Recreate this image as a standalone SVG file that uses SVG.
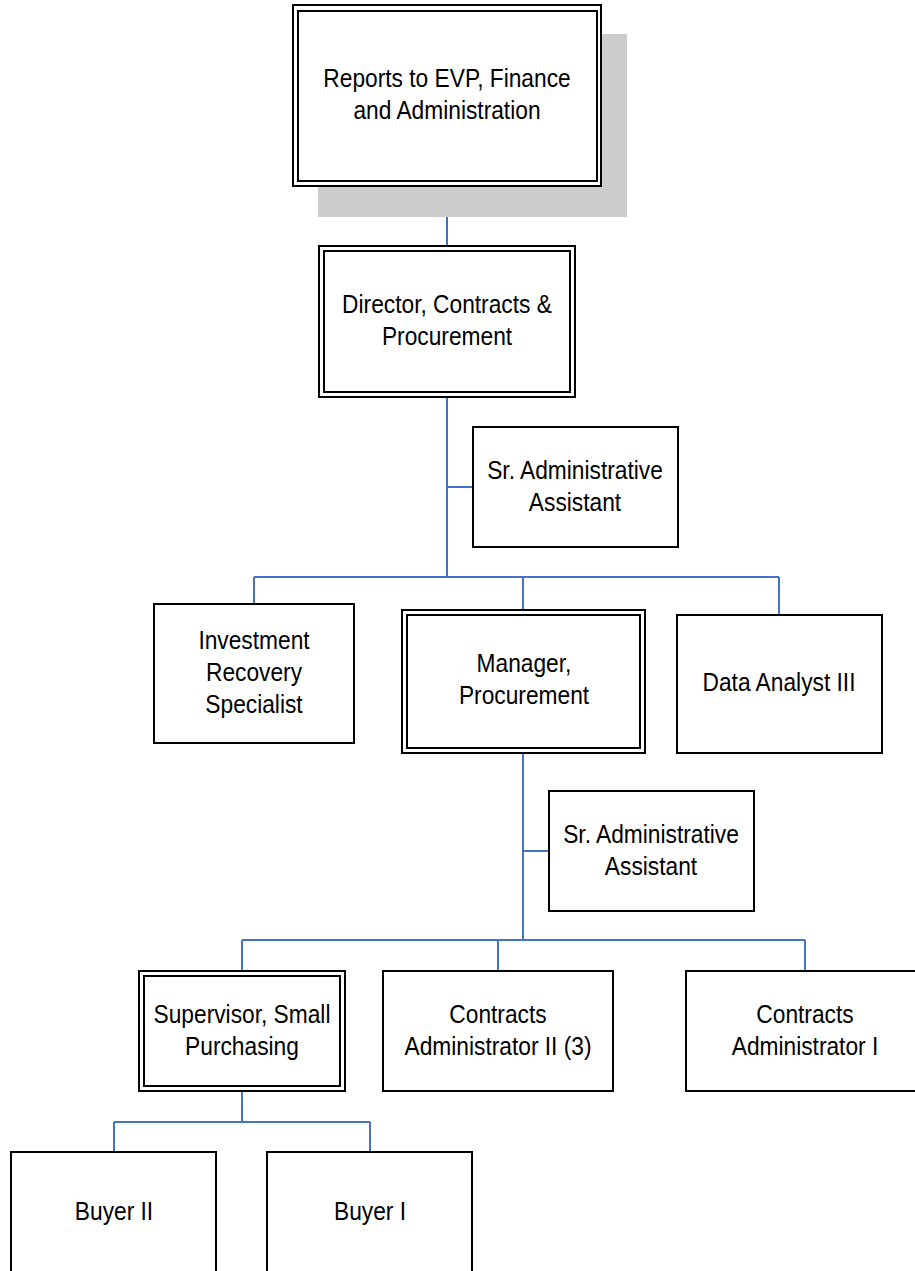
<svg xmlns="http://www.w3.org/2000/svg" width="915" height="1271" viewBox="0 0 915 1271">
<style>
.box{fill:#fff;stroke:#000;stroke-width:2}
.inner{fill:none;stroke:#000;stroke-width:2}
.conn{fill:none;stroke:#4472C4;stroke-width:2}
text{font-family:"Liberation Sans",Arial,sans-serif;font-size:25px;fill:#000;text-anchor:middle}
</style>
<rect width="915" height="1271" fill="#fff"/>
<g id="connectors">
<path class="conn" d="M447 186V246"/>
<path class="conn" d="M447 397V577M447 487H473M254 577H779M254 577V604M523 577V610M779 577V615"/>
<path class="conn" d="M523 753V940M523 851H549M242 940H805M242 940V971M498 940V971M805 940V971"/>
<path class="conn" d="M242 1091V1122M114 1122H370M114 1122V1152M370 1122V1152"/>
</g>
<g id="evp">
<rect x="318" y="34" width="309" height="183" fill="#cccccc"/>
<rect class="box" x="293" y="5" width="308" height="181"/>
<rect class="inner" x="298" y="11" width="299" height="170"/>
<text transform="translate(447 87) scale(0.91 1)">Reports to EVP, Finance</text>
<text transform="translate(447 119) scale(0.91 1)">and Administration</text>
</g>
<g id="director">
<rect class="box" x="319" y="246" width="256" height="151"/>
<rect class="inner" x="324" y="251" width="246" height="141"/>
<text transform="translate(447 313) scale(0.91 1)">Director, Contracts &amp;</text>
<text transform="translate(447 345) scale(0.91 1)">Procurement</text>
</g>
<g id="sradmin1">
<rect class="box" x="473" y="427" width="205" height="120"/>
<text transform="translate(575 479) scale(0.91 1)">Sr. Administrative</text>
<text transform="translate(575 511) scale(0.91 1)">Assistant</text>
</g>
<g id="investment">
<rect class="box" x="154" y="604" width="200" height="139"/>
<text transform="translate(254 649) scale(0.91 1)">Investment</text>
<text transform="translate(254 681) scale(0.91 1)">Recovery</text>
<text transform="translate(254 713) scale(0.91 1)">Specialist</text>
</g>
<g id="manager">
<rect class="box" x="402" y="610" width="243" height="143"/>
<rect class="inner" x="407" y="615" width="233" height="133"/>
<text transform="translate(524 672) scale(0.91 1)">Manager,</text>
<text transform="translate(524 704) scale(0.91 1)">Procurement</text>
</g>
<g id="dataanalyst">
<rect class="box" x="677" y="615" width="205" height="138"/>
<text transform="translate(779 691) scale(0.91 1)">Data Analyst III</text>
</g>
<g id="sradmin2">
<rect class="box" x="549" y="791" width="205" height="120"/>
<text transform="translate(651 843) scale(0.91 1)">Sr. Administrative</text>
<text transform="translate(651 875) scale(0.91 1)">Assistant</text>
</g>
<g id="supervisor">
<rect class="box" x="139" y="971" width="206" height="120"/>
<rect class="inner" x="144" y="976" width="196" height="110"/>
<text transform="translate(242 1023) scale(0.91 1)">Supervisor, Small</text>
<text transform="translate(242 1055) scale(0.91 1)">Purchasing</text>
</g>
<g id="contractsadmin2">
<rect class="box" x="383" y="971" width="230" height="120"/>
<text transform="translate(498 1023) scale(0.91 1)">Contracts</text>
<text transform="translate(498 1055) scale(0.91 1)">Administrator II (3)</text>
</g>
<g id="contractsadmin1">
<rect class="box" x="686" y="971" width="238" height="120"/>
<text transform="translate(805 1023) scale(0.91 1)">Contracts</text>
<text transform="translate(805 1055) scale(0.91 1)">Administrator I</text>
</g>
<g id="buyer2">
<rect class="box" x="11" y="1152" width="205" height="130"/>
<text transform="translate(114 1220) scale(0.91 1)">Buyer II</text>
</g>
<g id="buyer1">
<rect class="box" x="267" y="1152" width="205" height="130"/>
<text transform="translate(370 1220) scale(0.91 1)">Buyer I</text>
</g>
</svg>
